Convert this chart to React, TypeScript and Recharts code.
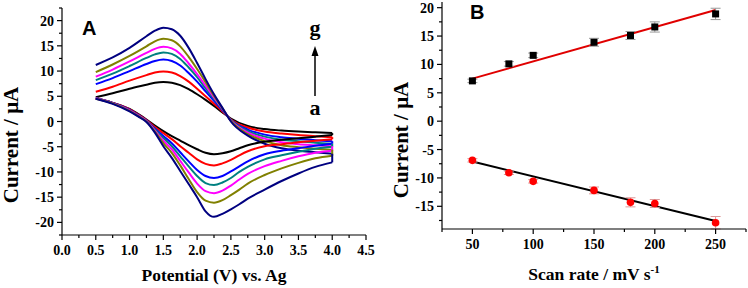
import React from 'react';
import { LineChart, Line, XAxis, YAxis, ComposedChart, Scatter, ErrorBar } from 'recharts';

// ---------- Panel A: cyclic voltammograms (curves a..g) ----------
const curveNames = ['a', 'b', 'c', 'd', 'e', 'f', 'g'];
const curveColors = ['#000000', '#ff0000', '#0000ff', '#008080', '#ff00ff', '#808000', '#000080'];

// forward (upper) branch potentials, V
const fwdPotentials = [0.5, 0.75, 1.0, 1.25, 1.375, 1.5, 1.625, 1.75, 1.875, 2.0, 2.125, 2.25, 2.375, 2.5, 2.75, 3.0, 3.25, 3.5, 3.75, 4.0];
const fwdA = [4.8, 5.6, 6.5, 7.3, 7.7, 7.85, 7.7, 7.2, 6.4, 5.4, 4.3, 3.1, 1.8, 0.6, -0.9, -1.5, -1.8, -2.0, -2.15, -2.3];
const fwdB = [5.9, 6.9, 8.1, 9.2, 9.7, 9.9, 9.7, 9.0, 7.9, 6.5, 5.0, 3.5, 2.0, 0.4, -1.2, -2.0, -2.4, -2.7, -2.9, -3.1];
const fwdC = [7.4, 8.6, 10.0, 11.4, 12.0, 12.3, 12.0, 11.1, 9.6, 7.9, 6.0, 4.1, 2.2, 0.3, -1.6, -2.6, -3.1, -3.4, -3.7, -3.9];
const fwdD = [8.2, 9.5, 11.0, 12.6, 13.3, 13.7, 13.4, 12.4, 10.7, 8.8, 6.6, 4.5, 2.4, 0.3, -1.9, -3.0, -3.6, -3.9, -4.2, -4.4];
const fwdE = [8.9, 10.3, 11.9, 13.6, 14.4, 14.8, 14.5, 13.4, 11.5, 9.4, 7.1, 4.8, 2.5, 0.2, -2.2, -3.4, -4.1, -4.5, -4.7, -4.9];
const fwdF = [9.8, 11.3, 13.0, 14.9, 15.9, 16.4, 16.1, 14.9, 12.8, 10.4, 7.8, 5.1, 2.6, 0.1, -2.5, -3.9, -4.7, -5.1, -5.4, -5.6];
const fwdG = [11.2, 12.7, 14.6, 16.9, 18.0, 18.6, 18.3, 17.0, 14.6, 11.6, 8.4, 5.4, 2.7, 0.0, -2.8, -4.4, -5.3, -5.8, -6.1, -6.4];

// reverse (lower) branch potentials, V (scan from 4.0 back to 0.5)
const revPotentials = [4.0, 3.75, 3.5, 3.25, 3.0, 2.75, 2.625, 2.5, 2.375, 2.25, 2.125, 2.0, 1.875, 1.75, 1.625, 1.5, 1.375, 1.25, 1.125, 1.0, 0.75, 0.5];
const revA = [-2.7, -3.0, -3.3, -3.6, -4.0, -4.7, -5.3, -5.9, -6.3, -6.5, -6.2, -5.5, -4.7, -3.8, -2.9, -1.9, -0.8, 0.4, 1.5, 2.5, 3.7, 4.6];
const revB = [-3.5, -3.8, -4.1, -4.5, -4.9, -5.9, -6.7, -7.6, -8.3, -8.7, -8.4, -7.5, -6.2, -4.9, -3.5, -2.3, -1.1, 0.3, 1.4, 2.4, 3.7, 4.6];
const revC = [-4.4, -4.8, -5.3, -5.8, -6.5, -7.9, -8.9, -9.9, -10.8, -11.2, -10.8, -9.6, -7.9, -6.1, -4.3, -2.9, -1.4, 0.2, 1.3, 2.3, 3.7, 4.6];
const revD = [-5.0, -5.4, -6.0, -6.7, -7.5, -9.0, -10.0, -11.2, -12.1, -12.6, -12.2, -10.8, -8.9, -6.9, -4.9, -3.3, -1.6, 0.1, 1.2, 2.2, 3.6, 4.6];
const revE = [-5.8, -6.2, -6.9, -7.8, -8.85, -10.4, -11.5, -12.7, -13.7, -14.2, -13.8, -12.3, -10.1, -7.8, -5.5, -3.8, -1.8, 0.1, 1.2, 2.2, 3.6, 4.6];
const revF = [-6.8, -7.3, -8.2, -9.3, -10.6, -12.3, -13.5, -14.6, -15.6, -16.1, -15.7, -14.0, -11.4, -8.7, -6.2, -4.3, -2.0, 0.0, 1.1, 2.1, 3.6, 4.5];
const revG = [-8.1, -9.0, -10.3, -11.8, -13.5, -15.3, -16.4, -17.4, -18.3, -18.9, -17.8, -15.0, -12.4, -9.8, -7.2, -4.9, -2.2, -0.1, 1.0, 2.0, 3.5, 4.5];

const fwdAll = [fwdA, fwdB, fwdC, fwdD, fwdE, fwdF, fwdG];
const revAll = [revA, revB, revC, revD, revE, revF, revG];

const aXTicks = [0, 0.25, 0.5, 0.75, 1, 1.25, 1.5, 1.75, 2, 2.25, 2.5, 2.75, 3, 3.25, 3.5, 3.75, 4, 4.25, 4.5];
const aYTicks = [-22.5, -20, -17.5, -15, -12.5, -10, -7.5, -5, -2.5, 0, 2.5, 5, 7.5, 10, 12.5, 15, 17.5, 20, 22.5];

// ---------- Panel B: peak current vs scan rate ----------
const scanRates = [50, 80, 100, 150, 180, 200, 250];
const anodicPeak = [7.1, 10.1, 11.6, 13.9, 15.1, 16.6, 18.9];
const anodicErr = [0.3, 0.4, 0.4, 0.7, 0.7, 0.9, 1.0];
const cathodicPeak = [-6.9, -9.1, -10.6, -12.2, -14.3, -14.5, -17.9];
const cathodicErr = [0.3, 0.3, 0.3, 0.6, 0.8, 0.7, 1.1];
const fitRates = [50, 250];
const anodicFit = [7.5, 19.6];
const cathodicFit = [-7.1, -17.6];

const bXTicks = [25, 50, 75, 100, 125, 150, 175, 200, 225, 250, 275];
const bYTicks = [-17.5, -15, -12.5, -10, -7.5, -5, -2.5, 0, 2.5, 5, 7.5, 10, 12.5, 15, 17.5, 20];

const SERIF = '"Liberation Serif", "Times New Roman", serif';
const SANS = '"Liberation Sans", Arial, sans-serif';

const isMajor = (v: number, step: number) => Math.abs(v / step - Math.round(v / step)) < 1e-6;

const makeXTick = (step: number, fmt: (v: number) => string) => (props: any) => {
  const { x, y, payload } = props;
  const v = payload.value as number;
  const major = isMajor(v, step);
  return (
    <g>
      <line x1={x} y1={y} x2={x} y2={y + (major ? 5 : 3)} stroke="#000" strokeWidth={1.2} />
      {major && (
        <text x={x} y={y + 20} textAnchor="middle" fontFamily={SERIF} fontWeight="bold" fontSize={14} fill="#000">
          {fmt(v)}
        </text>
      )}
    </g>
  );
};

const makeYTick = (step: number) => (props: any) => {
  const { x, y, payload } = props;
  const v = payload.value as number;
  const major = isMajor(v, step);
  return (
    <g>
      <line x1={x - (major ? 5 : 3)} y1={y} x2={x} y2={y} stroke="#000" strokeWidth={1.2} />
      {major && (
        <text x={x - 8} y={y + 5} textAnchor="end" fontFamily={SERIF} fontWeight="bold" fontSize={14} fill="#000">
          {String(v)}
        </text>
      )}
    </g>
  );
};

const SquareDot = (props: any) => {
  const { cx, cy } = props;
  return <rect x={cx - 3.5} y={cy - 3.5} width={7} height={7} fill="#000" />;
};
const RoundDot = (props: any) => {
  const { cx, cy } = props;
  return <circle cx={cx} cy={cy} r={3.8} fill="#ff0000" />;
};

export default function App() {
  const fwdSeries = fwdAll.map((arr) => fwdPotentials.map((p, j) => ({ x: p, y: arr[j] })));
  const revSeries = revAll.map((arr) =>
    revPotentials.map((p, j) => ({ x: p, y: arr[j] })).slice().reverse()
  );
  const connSeries = fwdAll.map((arr, i) => [
    { x: fwdPotentials[fwdPotentials.length - 1], y: arr[arr.length - 1] },
    { x: revPotentials[0], y: revAll[i][0] },
  ]);

  const anodicData = scanRates.map((r, i) => ({ x: r, y: anodicPeak[i], e: anodicErr[i] }));
  const cathodicData = scanRates.map((r, i) => ({ x: r, y: cathodicPeak[i], e: cathodicErr[i] }));
  const anodicFitData = fitRates.map((r, i) => ({ x: r, y: anodicFit[i] }));
  const cathodicFitData = fitRates.map((r, i) => ({ x: r, y: cathodicFit[i] }));

  const axisStyle = { stroke: '#000', strokeWidth: 1.2 };

  return (
    <div style={{ position: 'absolute', left: 0, top: 0, width: 748, height: 288, background: '#fff', overflow: 'hidden' }}>
      <div style={{ position: 'absolute', left: 0, top: 0 }}>
        <LineChart width={380} height={288} margin={{ top: 8, right: 14, bottom: 23, left: 22 }}>
          <XAxis
            type="number"
            dataKey="x"
            domain={[0, 4.5]}
            ticks={aXTicks}
            interval={0}
            tickSize={0}
            tickMargin={0}
            tickLine={false}
            axisLine={axisStyle}
            height={30}
            tick={makeXTick(0.5, (v) => v.toFixed(1))}
            allowDataOverflow
          />
          <YAxis
            type="number"
            domain={[-22.5, 22.5]}
            ticks={aYTicks}
            interval={0}
            tickSize={0}
            tickMargin={0}
            tickLine={false}
            axisLine={axisStyle}
            width={40}
            tick={makeYTick(5)}
            allowDataOverflow
          />
          {curveNames.map((n, i) => (
            <Line key={'f' + n} data={fwdSeries[i]} dataKey="y" type="monotone" stroke={curveColors[i]} strokeWidth={2} dot={false} isAnimationActive={false} />
          ))}
          {curveNames.map((n, i) => (
            <Line key={'r' + n} data={revSeries[i]} dataKey="y" type="monotone" stroke={curveColors[i]} strokeWidth={2} dot={false} isAnimationActive={false} />
          ))}
          {curveNames.map((n, i) => (
            <Line key={'c' + n} data={connSeries[i]} dataKey="y" type="linear" stroke={curveColors[i]} strokeWidth={2} dot={false} isAnimationActive={false} />
          ))}
        </LineChart>
      </div>
      <div style={{ position: 'absolute', left: 380, top: 0 }}>
        <ComposedChart width={368} height={288} margin={{ top: 2, right: 2, bottom: 29, left: 22 }}>
          <XAxis
            type="number"
            dataKey="x"
            domain={[25, 275]}
            ticks={bXTicks}
            interval={0}
            tickSize={0}
            tickMargin={0}
            tickLine={false}
            axisLine={axisStyle}
            height={30}
            tick={makeXTick(50, (v) => String(v))}
            allowDataOverflow
          />
          <YAxis
            type="number"
            dataKey="y"
            domain={[-19, 21]}
            ticks={bYTicks}
            interval={0}
            tickSize={0}
            tickMargin={0}
            tickLine={false}
            axisLine={axisStyle}
            width={40}
            tick={makeYTick(5)}
            allowDataOverflow
          />
          <Line data={anodicFitData} dataKey="y" type="linear" stroke="#e00000" strokeWidth={2} dot={false} isAnimationActive={false} />
          <Line data={cathodicFitData} dataKey="y" type="linear" stroke="#000" strokeWidth={2} dot={false} isAnimationActive={false} />
          <Scatter data={anodicData} dataKey="y" shape={SquareDot} isAnimationActive={false}>
            <ErrorBar dataKey="e" direction="y" width={5} stroke="#999" strokeWidth={1} />
          </Scatter>
          <Scatter data={cathodicData} dataKey="y" shape={RoundDot} isAnimationActive={false}>
            <ErrorBar dataKey="e" direction="y" width={5} stroke="#d99" strokeWidth={1} />
          </Scatter>
        </ComposedChart>
      </div>
      <svg width={748} height={288} style={{ position: 'absolute', left: 0, top: 0, pointerEvents: 'none' }}>
        <text x={82} y={35} fontFamily={SANS} fontWeight="bold" fontSize={20} fill="#000">A</text>
        <text x={470} y={18.5} fontFamily={SANS} fontWeight="bold" fontSize={20} fill="#000">B</text>
        <text x={315} y={35} textAnchor="middle" fontFamily={SERIF} fontWeight="bold" fontSize={22} fill="#000">g</text>
        <text x={315} y={115} textAnchor="middle" fontFamily={SERIF} fontWeight="bold" fontSize={22} fill="#000">a</text>
        <line x1={315} y1={96} x2={315} y2={54} stroke="#000" strokeWidth={1.5} />
        <polygon points="315,46 311.5,56 318.5,56" fill="#000" />
        <text x={214} y={281} textAnchor="middle" fontFamily={SERIF} fontWeight="bold" fontSize={17.5} fill="#000">
          Potential (V) vs. Ag
        </text>
        <text x={594} y={280} textAnchor="middle" fontFamily={SERIF} fontWeight="bold" fontSize={17.5} fill="#000">
          Scan rate / mV s<tspan dy={-7} fontSize={11}>-1</tspan>
        </text>
        <text transform="translate(18,145) rotate(-90)" textAnchor="middle" fontFamily={SERIF} fontWeight="bold" fontSize={21} fill="#000">
          Current / μA
        </text>
        <text transform="translate(408,140) rotate(-90)" textAnchor="middle" fontFamily={SERIF} fontWeight="bold" fontSize={21} fill="#000">
          Current / μA
        </text>
      </svg>
    </div>
  );
}
